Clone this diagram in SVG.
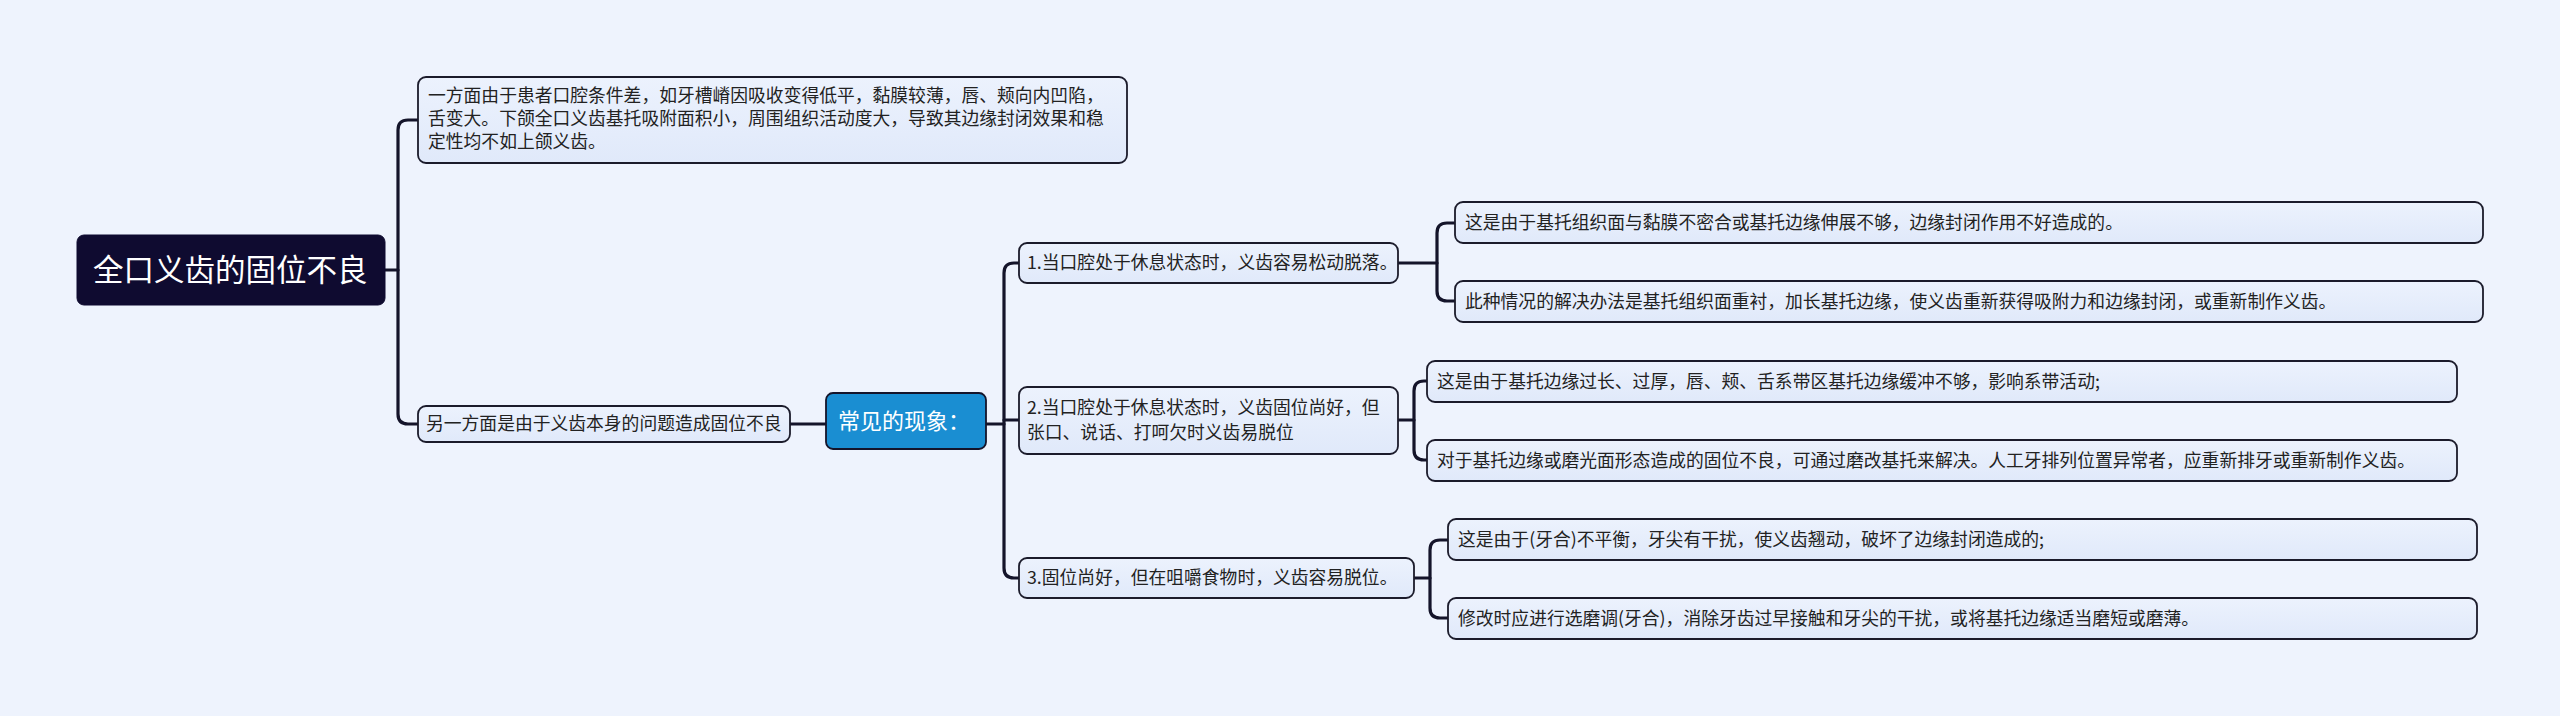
<svg xmlns="http://www.w3.org/2000/svg" width="2560" height="716" viewBox="0 0 2560 716">
<defs>
<linearGradient id="nodeFill" x1="0" y1="0" x2="0" y2="1">
<stop offset="0" stop-color="#ecf2fd"/>
<stop offset="1" stop-color="#e0e9fa"/>
</linearGradient>
<style>
.node rect{fill:url(#nodeFill);stroke:#1b1b2b;stroke-width:1.8}
.node text{font-family:"Noto Sans CJK SC","Noto Sans",sans-serif;font-size:17.8px;fill:#222}
.conn path{fill:none;stroke:#14142a;stroke-width:3.2;stroke-linecap:round}
.root rect{fill:#0f0b30;stroke:#0f0b30}
.root text{font-family:"Noto Sans CJK SC","Noto Sans",sans-serif;font-size:30.5px;fill:#fff}
.hub rect{fill:#1a8ed2;stroke:#14142a;stroke-width:1.8}
.hub text{font-family:"Noto Sans CJK SC","Noto Sans",sans-serif;font-size:22px;fill:#fff}
</style>
</defs>
<rect width="2560" height="716" fill="#eef3fd"/>
<g id="connectors" class="conn">
<path d="M385 270 H398"/>
<path d="M418 120 H408 Q398 120 398 130 V414 Q398 424 408 424 H418"/>
<path d="M790 424 H826"/>
<path d="M986 424 H1004"/>
<path d="M1019 263 H1014 Q1004 263 1004 273 V568 Q1004 578 1014 578 H1019"/>
<path d="M1004 420 H1019"/>
<path d="M1398 263 H1437"/>
<path d="M1455 223 H1447 Q1437 223 1437 233 V291 Q1437 301 1447 301 H1455"/>
<path d="M1398 420 H1414"/>
<path d="M1427 381 H1424 Q1414 381 1414 391 V450 Q1414 460 1424 460 H1427"/>
<path d="M1414 578 H1430"/>
<path d="M1448 540 H1440 Q1430 540 1430 550 V608 Q1430 618 1440 618 H1448"/>
</g>
<g id="root" class="root">
<rect x="77" y="235" width="308" height="70" rx="7"/>
<text x="93" y="281">全口义齿的固位不良</text>
</g>
<g id="n-top" class="node">
<rect x="418" y="77" width="709" height="86" rx="8"/>
<text x="428" y="102">一方面由于患者口腔条件差，如牙槽嵴因吸收变得低平，黏膜较薄，唇、颊向内凹陷，</text>
<text x="428" y="125">舌变大。下颌全口义齿基托吸附面积小，周围组织活动度大，导致其边缘封闭效果和稳</text>
<text x="428" y="148">定性均不如上颌义齿。</text>
</g>
<g id="n-bottom" class="node">
<rect x="418" y="406" width="372" height="36" rx="8"/>
<text x="426" y="430">另一方面是由于义齿本身的问题造成固位不良</text>
</g>
<g id="hub" class="hub">
<rect x="826" y="393" width="160" height="56" rx="7"/>
<text x="838" y="429">常见的现象：</text>
</g>
<g id="n1" class="node">
<rect x="1019" y="243" width="379" height="40" rx="8"/>
<text x="1027" y="269">1.当口腔处于休息状态时，义齿容易松动脱落。</text>
</g>
<g id="n2" class="node">
<rect x="1019" y="387" width="379" height="67" rx="8"/>
<text x="1027" y="414">2.当口腔处于休息状态时，义齿固位尚好，但</text>
<text x="1027" y="439">张口、说话、打呵欠时义齿易脱位</text>
</g>
<g id="n3" class="node">
<rect x="1019" y="558" width="395" height="40" rx="8"/>
<text x="1027" y="584">3.固位尚好，但在咀嚼食物时，义齿容易脱位。</text>
</g>
<g id="n1a" class="node">
<rect x="1455" y="202" width="1028" height="41" rx="8"/>
<text x="1465" y="229">这是由于基托组织面与黏膜不密合或基托边缘伸展不够，边缘封闭作用不好造成的。</text>
</g>
<g id="n1b" class="node">
<rect x="1455" y="281" width="1028" height="41" rx="8"/>
<text x="1465" y="308">此种情况的解决办法是基托组织面重衬，加长基托边缘，使义齿重新获得吸附力和边缘封闭，或重新制作义齿。</text>
</g>
<g id="n2a" class="node">
<rect x="1427" y="361" width="1030" height="41" rx="8"/>
<text x="1437" y="388">这是由于基托边缘过长、过厚，唇、颊、舌系带区基托边缘缓冲不够，影响系带活动;</text>
</g>
<g id="n2b" class="node">
<rect x="1427" y="440" width="1030" height="41" rx="8"/>
<text x="1437" y="467">对于基托边缘或磨光面形态造成的固位不良，可通过磨改基托来解决。人工牙排列位置异常者，应重新排牙或重新制作义齿。</text>
</g>
<g id="n3a" class="node">
<rect x="1448" y="519" width="1029" height="41" rx="8"/>
<text x="1458" y="546">这是由于(牙合)不平衡，牙尖有干扰，使义齿翘动，破坏了边缘封闭造成的;</text>
</g>
<g id="n3b" class="node">
<rect x="1448" y="598" width="1029" height="41" rx="8"/>
<text x="1458" y="625">修改时应进行选磨调(牙合)，消除牙齿过早接触和牙尖的干扰，或将基托边缘适当磨短或磨薄。</text>
</g>
</svg>
